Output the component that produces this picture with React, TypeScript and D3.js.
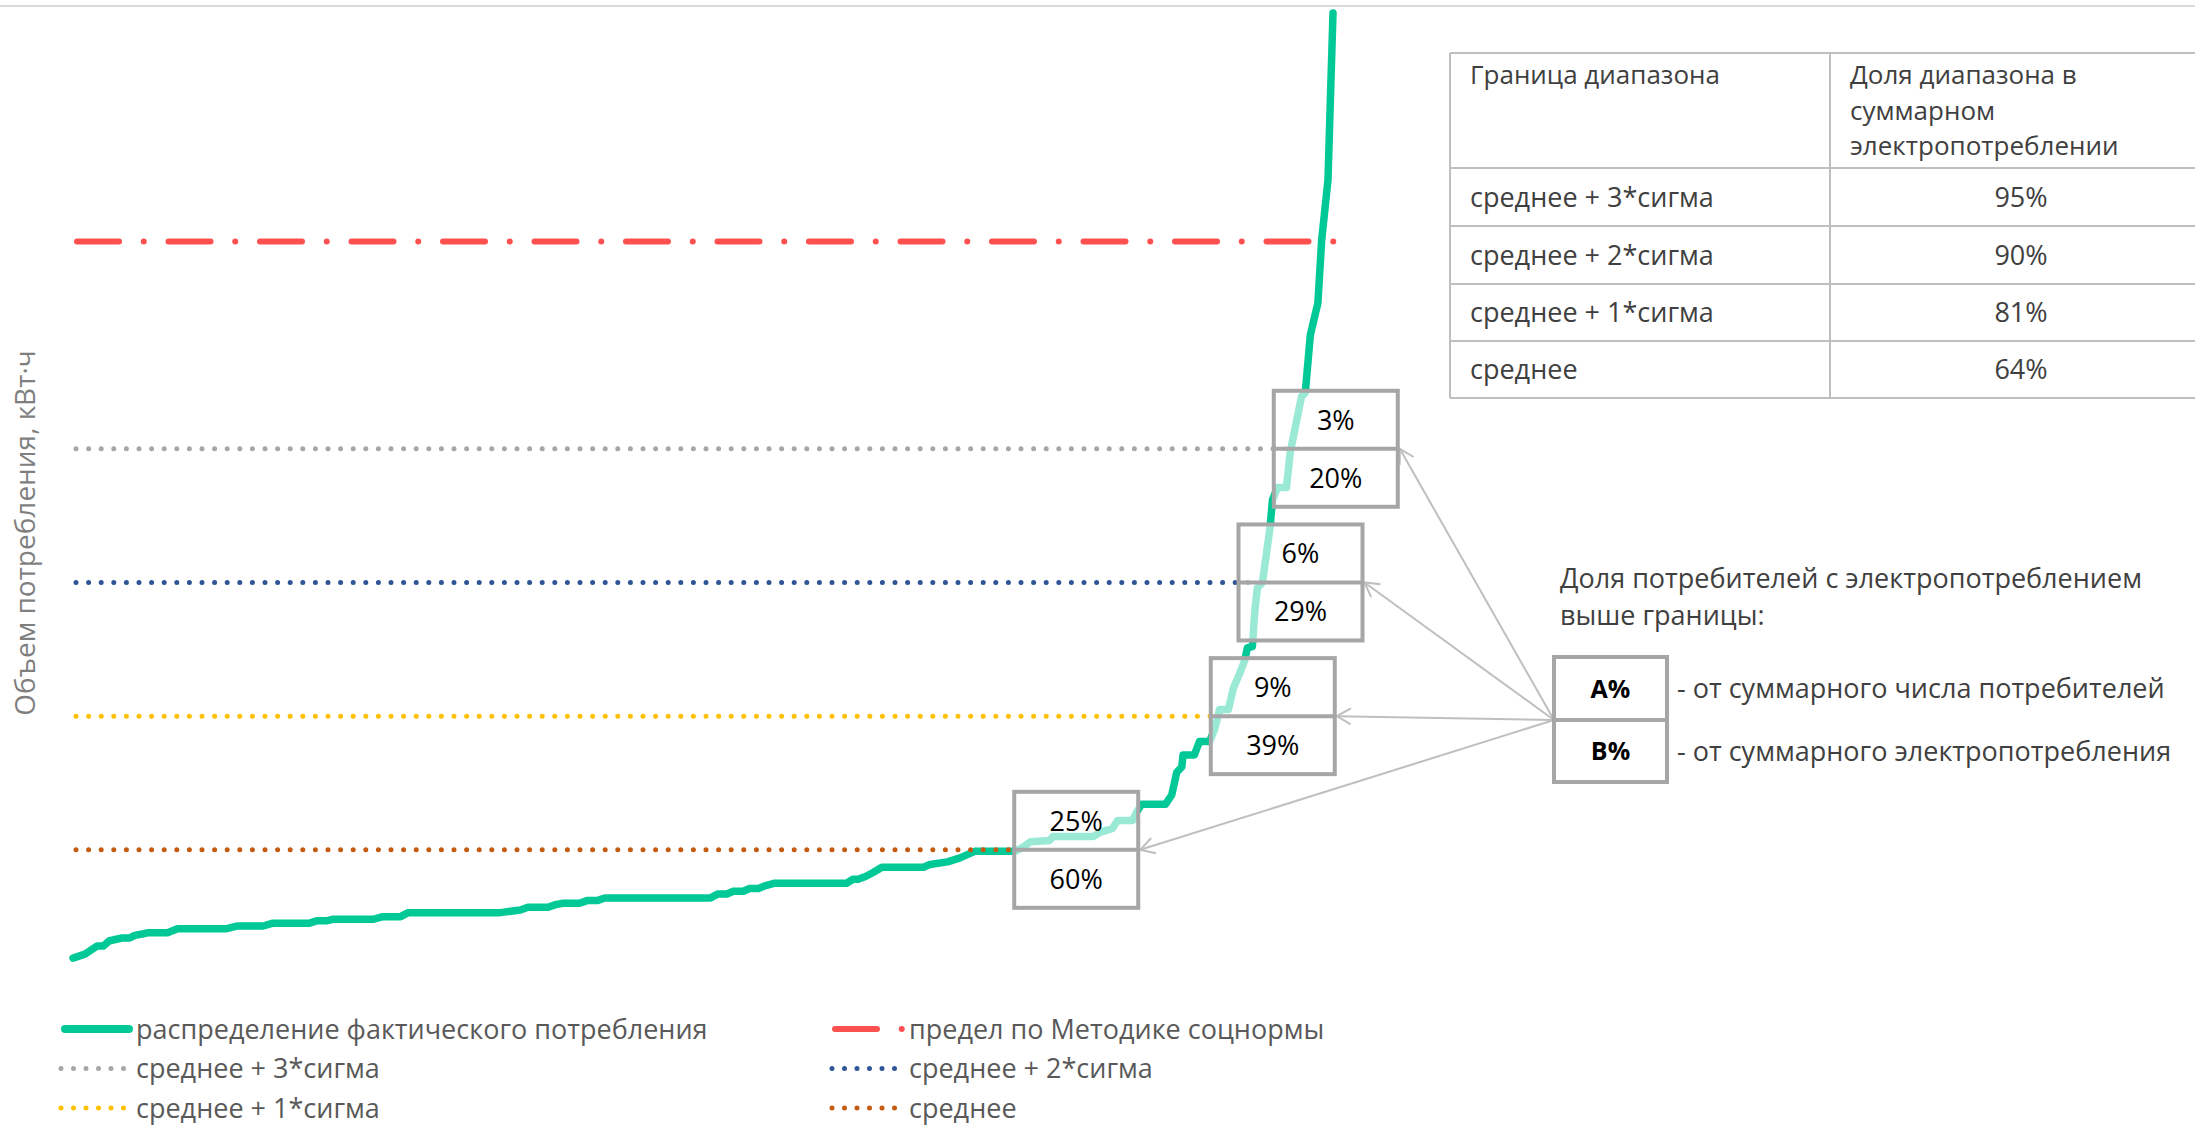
import React, { useEffect, useRef } from "react";
import * as d3 from "d3";

// sorted consumption curve: share of consumers (%) -> kWh
const percentile = [
  0, 0.95, 1.9, 2.4, 2.9, 3.9, 4.5, 4.9, 5.5, 6.0, 7.5, 8.3, 12.2, 13.0, 15.1,
  15.8, 18.7, 19.4, 20.2, 20.6, 23.8, 24.6, 26.0, 26.6, 33.3, 33.9, 35.5, 36.1,
  37.7, 38.3, 38.9, 40.2, 40.8, 41.6, 42.2, 50.6, 51.2, 51.9, 52.4, 53.2, 53.7,
  54.4, 54.9, 55.7, 61.4, 61.9, 62.3, 62.9, 63.5, 64.2, 67.5, 68.0, 69.4, 70.4,
  71.6, 74.8, 75.4, 76.0, 77.5, 77.8, 81.0, 81.5, 82.5, 82.9, 84.1, 84.4, 84.8,
  86.7, 87.2, 87.6, 88.0, 88.1, 89.0, 89.4, 90.2, 90.6, 91.0, 91.7, 92.1, 92.6,
  93.0, 93.2, 93.6, 93.8, 94.0, 94.4, 95.0, 95.2, 95.6, 96.3, 96.6, 97.5, 97.8,
  98.2, 98.8, 99.1, 99.6, 100,
];
const consumption = [
  169, 172, 178, 178, 182, 184, 184, 186, 187, 188, 188, 191, 191, 193, 193,
  195, 195, 197, 197, 198, 198, 200, 200, 203, 203, 203, 205, 207, 207, 209,
  210, 210, 212, 212, 214, 214, 217, 217, 219, 219, 221, 221, 223, 225, 225,
  228, 228, 230, 233, 237, 237, 239, 241, 244, 249, 249, 252, 256, 257, 260,
  260, 263, 266, 272, 272, 278, 284, 284, 291, 308, 312, 321, 321, 331, 331,
  340, 355, 355, 371, 382, 392, 401, 402, 429, 446, 450, 491, 512, 521, 521,
  547, 589, 592, 635, 659, 706, 751, 876,
];

const normLimit = 705;

const thresholdNames = ["среднее", "среднее + 1*сигма", "среднее + 2*сигма", "среднее + 3*сигма"];
const thresholdValues = [250, 350, 450, 550];
const thresholdColors = ["#C55A11", "#FFC000", "#2F5597", "#A6A6A6"];
const consumersAbove = ["25%", "9%", "6%", "3%"];
const consumptionAbove = ["60%", "39%", "29%", "20%"];
const boxAtPercentile = [74.7, 90.3, 92.5, 95.3];

const tableHeader = ["Граница диапазона", "Доля диапазона в|суммарном|электропотреблении"];
const tableRows = ["среднее + 3*сигма", "среднее + 2*сигма", "среднее + 1*сигма", "среднее"];
const tableShares = ["95%", "90%", "81%", "64%"];

const FONT = "'Open Sans', 'Noto Sans', sans-serif";
const GREEN = "#00C896";
const RED = "#FF5050";
const DASHDOT = "42 24.75 0 24.75";

const crossing = (v: number) => {
  for (let i = 1; i < consumption.length; i++) {
    if (consumption[i] >= v) {
      const t = (v - consumption[i - 1]) / (consumption[i] - consumption[i - 1]);
      return percentile[i - 1] + t * (percentile[i] - percentile[i - 1]);
    }
  }
  return 100;
};

export default function App() {
  const ref = useRef<SVGSVGElement>(null);

  useEffect(() => {
    const svg = d3.select(ref.current);
    svg.selectAll("*").remove();

    const x = d3.scaleLinear().domain([0, 100]).range([73, 1333]);
    const y = d3.scaleLinear().domain([0, 876]).range([1184, 13]);

    svg.append("rect").attr("width", 2195).attr("height", 1125).attr("fill", "#fff");
    svg.append("line").attr("x1", 0).attr("x2", 2195).attr("y1", 6).attr("y2", 6)
      .attr("stroke", "#d9d9d9").attr("stroke-width", 2);

    // y label
    svg.append("text")
      .attr("transform", `translate(35,533) rotate(-90)`)
      .attr("text-anchor", "middle")
      .style("font-family", FONT).style("font-size", "28px").attr("fill", "#7f7f7f")
      .text("Объем потребления, кВт·ч");

    // curve
    const line = d3.line<number>().x((d, i) => x(percentile[i])).y((d) => y(d));
    svg.append("path").datum(consumption).attr("d", line)
      .attr("fill", "none").attr("stroke", GREEN).attr("stroke-width", 7.5)
      .attr("stroke-linejoin", "round").attr("stroke-linecap", "round");

    // norm limit
    svg.append("line").attr("x1", x(0) + 4).attr("x2", x(100) + 1).attr("y1", y(normLimit)).attr("y2", y(normLimit))
      .attr("stroke", RED).attr("stroke-width", 6).attr("stroke-linecap", "round")
      .attr("stroke-dasharray", DASHDOT);

    // threshold lines
    thresholdValues.forEach((v, i) => {
      svg.append("line").attr("x1", x(0) + 3).attr("x2", x(crossing(v))).attr("y1", y(v)).attr("y2", y(v))
        .attr("stroke", thresholdColors[i]).attr("stroke-width", 5).attr("stroke-linecap", "round")
        .attr("stroke-dasharray", "0 12.6");
    });

    // arrows
    const defs = svg.append("defs");
    defs.append("marker").attr("id", "arr").attr("markerUnits", "userSpaceOnUse")
      .attr("orient", "auto").attr("markerWidth", 30).attr("markerHeight", 30)
      .attr("refX", 0).attr("refY", 0).attr("viewBox", "-20 -15 30 30")
      .append("path").attr("d", "M-14,-8 L0,0 L-14,8").attr("fill", "none")
      .attr("stroke", "#bfbfbf").attr("stroke-width", 2);

    const bw = 124, bh = 116;
    const src = { x: 1554, y: 720 };
    thresholdValues.forEach((v, i) => {
      svg.append("line").attr("x1", src.x).attr("y1", src.y)
        .attr("x2", x(boxAtPercentile[i]) + bw + 2).attr("y2", y(v))
        .attr("stroke", "#bfbfbf").attr("stroke-width", 2).attr("marker-end", "url(#arr)");
    });

    // boxes
    thresholdValues.forEach((v, i) => {
      const bx = x(boxAtPercentile[i]), cy = y(v);
      const g = svg.append("g");
      g.append("rect").attr("x", bx).attr("y", cy - bh / 2).attr("width", bw).attr("height", bh)
        .attr("fill", "#fff").attr("fill-opacity", 0.6).attr("stroke", "#a6a6a6").attr("stroke-width", 4);
      g.append("line").attr("x1", bx).attr("x2", bx + bw).attr("y1", cy).attr("y2", cy)
        .attr("stroke", "#a6a6a6").attr("stroke-width", 4);
      [consumersAbove[i], consumptionAbove[i]].forEach((t, k) => {
        g.append("text").attr("x", bx + bw / 2).attr("y", cy + (k === 0 ? -bh / 4 : bh / 4))
          .attr("dy", "0.36em").attr("text-anchor", "middle")
          .style("font-family", FONT).style("font-size", "27px").attr("fill", "#000").text(t);
      });
    });

    // explanation box
    const lb = { x: 1554, y: 657, w: 113, h: 125 };
    svg.append("rect").attr("x", lb.x).attr("y", lb.y).attr("width", lb.w).attr("height", lb.h)
      .attr("fill", "#fff").attr("stroke", "#a6a6a6").attr("stroke-width", 4);
    svg.append("line").attr("x1", lb.x).attr("x2", lb.x + lb.w).attr("y1", src.y).attr("y2", src.y)
      .attr("stroke", "#a6a6a6").attr("stroke-width", 4);
    [["A%", "- от суммарного числа потребителей"], ["B%", "- от суммарного электропотребления"]].forEach(([a, b], k) => {
      const cy = k === 0 ? (lb.y + src.y) / 2 : (src.y + lb.y + lb.h) / 2;
      svg.append("text").attr("x", lb.x + lb.w / 2).attr("y", cy).attr("dy", "0.36em")
        .attr("text-anchor", "middle").style("font-family", FONT).style("font-size", "25px")
        .style("font-weight", "bold").attr("fill", "#000").text(a);
      svg.append("text").attr("x", lb.x + lb.w + 10).attr("y", cy).attr("dy", "0.36em")
        .style("font-family", FONT).style("font-size", "27px").attr("fill", "#404040").text(b);
    });
    const expl = svg.append("text").attr("x", 1560).attr("y", 588)
      .style("font-family", FONT).style("font-size", "27px").attr("fill", "#404040");
    ["Доля потребителей с электропотреблением", "выше границы:"].forEach((t, k) => {
      expl.append("tspan").attr("x", 1560).attr("dy", k === 0 ? 0 : 37).text(t);
    });

    // table
    const tx = [1450, 1830, 2212];
    const ty = [53, 168, 226, 284, 341, 398];
    const tg = svg.append("g").attr("stroke", "#bfbfbf").attr("stroke-width", 2);
    ty.forEach((yy) => tg.append("line").attr("x1", tx[0]).attr("x2", tx[2]).attr("y1", yy).attr("y2", yy));
    tx.forEach((xx) => tg.append("line").attr("x1", xx).attr("x2", xx).attr("y1", ty[0]).attr("y2", ty[ty.length - 1]));
    tableHeader.forEach((h, c) => {
      const t = svg.append("text").attr("x", tx[c] + 20).attr("y", 84)
        .style("font-family", FONT).style("font-size", "26px").attr("fill", "#404040");
      h.split("|").forEach((s, k) => {
        t.append("tspan").attr("x", tx[c] + 20).attr("dy", k === 0 ? 0 : 35.5).text(s);
      });
    });
    tableRows.forEach((r, i) => {
      const cy = (ty[i + 1] + ty[i + 2]) / 2;
      svg.append("text").attr("x", tx[0] + 20).attr("y", cy).attr("dy", "0.36em")
        .style("font-family", FONT).style("font-size", "27px").attr("fill", "#404040").text(r);
      svg.append("text").attr("x", (tx[1] + tx[2]) / 2).attr("y", cy).attr("dy", "0.36em")
        .attr("text-anchor", "middle")
        .style("font-family", FONT).style("font-size", "27px").attr("fill", "#404040").text(tableShares[i]);
    });

    // legend
    const legend = [
      { label: "распределение фактического потребления", color: GREEN, type: "solid" },
      { label: "предел по Методике соцнормы", color: RED, type: "dashdot" },
      { label: thresholdNames[3], color: thresholdColors[3], type: "dot" },
      { label: thresholdNames[2], color: thresholdColors[2], type: "dot" },
      { label: thresholdNames[1], color: thresholdColors[1], type: "dot" },
      { label: thresholdNames[0], color: thresholdColors[0], type: "dot" },
    ];
    legend.forEach((d, i) => {
      const lx = i % 2 === 0 ? 61 : 832;
      const ly = 1029 + Math.floor(i / 2) * 39.5;
      const g = svg.append("g");
      if (d.type === "solid") {
        g.append("line").attr("x1", lx + 4).attr("x2", lx + 68).attr("y1", ly).attr("y2", ly)
          .attr("stroke", d.color).attr("stroke-width", 8).attr("stroke-linecap", "round");
      } else if (d.type === "dashdot") {
        g.append("line").attr("x1", lx + 3).attr("x2", lx + 72).attr("y1", ly).attr("y2", ly)
          .attr("stroke", d.color).attr("stroke-width", 6).attr("stroke-linecap", "round")
          .attr("stroke-dasharray", DASHDOT);
      } else {
        g.append("line").attr("x1", lx).attr("x2", lx + 63).attr("y1", ly).attr("y2", ly)
          .attr("stroke", d.color).attr("stroke-width", 5).attr("stroke-linecap", "round")
          .attr("stroke-dasharray", "0 12.5");
      }
      g.append("text").attr("x", lx + (i % 2 === 0 ? 75 : 77)).attr("y", ly).attr("dy", "0.36em")
        .style("font-family", FONT).style("font-size", "27px").attr("fill", "#595959").text(d.label);
    });
  }, []);

  return (
    <svg
      ref={ref}
      width={2195}
      height={1125}
      style={{ position: "absolute", left: 0, top: 0 }}
    />
  );
}
